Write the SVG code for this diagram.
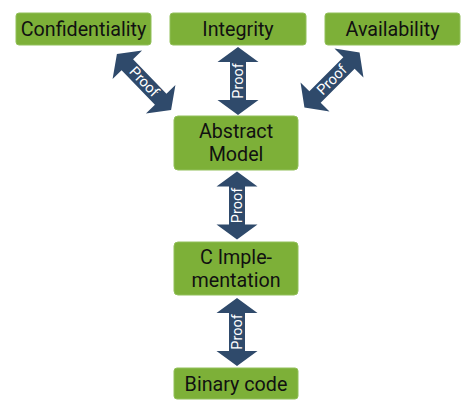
<svg xmlns="http://www.w3.org/2000/svg" width="475" height="415" viewBox="0 0 475 415">
  <defs>
    <style>
      .box { fill: #7db038; stroke: #92c05a; stroke-width: 1; }
      .lbl { font-family: Roboto, "Liberation Sans", sans-serif; font-size: 19.7px; fill: #111; text-anchor: middle; }
      .arrow { fill: #2f4a6b; }
      .proof { font-family: Roboto, "Liberation Sans", sans-serif; font-size: 14.5px; fill: #ffffff; text-anchor: middle; dominant-baseline: central; }
    </style>
    <!-- double-headed block arrows, vertical, centred on origin -->
    <polygon id="dbl68" points="0,-34 20.5,-19 8,-19 8,19 20.5,19 0,34 -20.5,19 -8,19 -8,-19 -20.5,-19"/>
    <polygon id="dbl78" points="0,-39 20.5,-24 8,-24 8,24 20.5,24 0,39 -20.5,24 -8,24 -8,-24 -20.5,-24"/>
  </defs>

  <g id="connectors">
    <g transform="translate(144,82) rotate(-44)">
      <use href="#dbl78" class="arrow"/>
      <text class="proof" transform="rotate(90)" x="0" y="0">Proof</text>
    </g>
    <g transform="translate(238,81)">
      <use href="#dbl68" class="arrow"/>
      <text class="proof" transform="rotate(-90)" x="0" y="0">Proof</text>
    </g>
    <g transform="translate(332,80) rotate(45)">
      <use href="#dbl78" class="arrow"/>
      <text class="proof" transform="rotate(-90)" x="0" y="0">Proof</text>
    </g>
    <g transform="translate(237,205.5)">
      <use href="#dbl68" class="arrow"/>
      <text class="proof" transform="rotate(-90)" x="0" y="0">Proof</text>
    </g>
    <g transform="translate(237,332)">
      <use href="#dbl68" class="arrow"/>
      <text class="proof" transform="rotate(-90)" x="0" y="0">Proof</text>
    </g>
  </g>

  <g id="confidentiality">
    <rect class="box" x="16" y="13" width="135" height="32" rx="3"/>
    <text class="lbl" x="83.5" y="36">Confidentiality</text>
  </g>
  <g id="integrity">
    <rect class="box" x="170" y="13" width="136" height="32" rx="3"/>
    <text class="lbl" x="238" y="36">Integrity</text>
  </g>
  <g id="availability">
    <rect class="box" x="325" y="13" width="135" height="32" rx="3"/>
    <text class="lbl" x="392.5" y="36">Availability</text>
  </g>
  <g id="abstract-model">
    <rect class="box" x="174" y="116" width="124" height="54" rx="4"/>
    <text class="lbl" x="236" y="137.5">Abstract</text>
    <text class="lbl" x="236" y="161">Model</text>
  </g>
  <g id="c-implementation">
    <rect class="box" x="174" y="242" width="124" height="53" rx="4"/>
    <text class="lbl" x="236" y="263.5">C Imple-</text>
    <text class="lbl" x="236" y="287">mentation</text>
  </g>
  <g id="binary-code">
    <rect class="box" x="174" y="368" width="124" height="31" rx="3"/>
    <text class="lbl" x="236" y="391">Binary code</text>
  </g>
</svg>
